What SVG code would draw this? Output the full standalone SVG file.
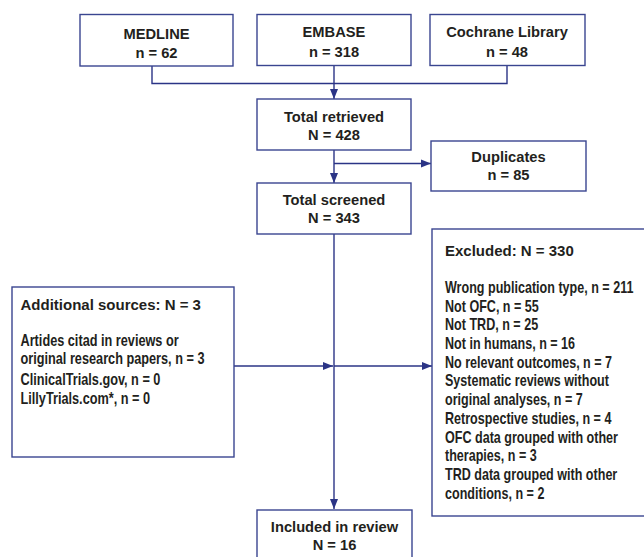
<svg xmlns="http://www.w3.org/2000/svg" width="644" height="557" viewBox="0 0 644 557">
<defs>
<marker id="ah" viewBox="0 0 10 10" refX="10" refY="5" markerWidth="10" markerHeight="10" markerUnits="userSpaceOnUse" orient="auto">
<path d="M0,1 L10,5 L0,9 Z" fill="#2b3486"/>
</marker>
<style>
.box{fill:#fff;stroke:#3a4590;stroke-width:1.4}
.ln{fill:none;stroke:#2b3486;stroke-width:1.4}
.t{font-family:"Liberation Sans",Arial,sans-serif;font-weight:bold;font-size:14.7px;fill:#231f20;text-anchor:middle}
.h{font-family:"Liberation Sans",Arial,sans-serif;font-weight:bold;font-size:15px;fill:#231f20}
.l{font-family:"Liberation Sans",Arial,sans-serif;font-weight:bold;font-size:16px;fill:#231f20}
</style>
</defs>
<rect width="644" height="557" fill="#fff"/>
<g id="connectors">
<path class="ln" d="M152,66 V83.5 H507 V66"/>
<path class="ln" d="M334,65 V99" marker-end="url(#ah)"/>
<path class="ln" d="M334,150 V183" marker-end="url(#ah)"/>
<path class="ln" d="M334,163.5 H431" marker-end="url(#ah)"/>
<path class="ln" d="M334,234 V509" marker-end="url(#ah)"/>
<path class="ln" d="M234,366 H333" marker-end="url(#ah)"/>
<path class="ln" d="M334,366 H432" marker-end="url(#ah)"/>
</g>
<g id="medline">
<rect class="box" x="80" y="14.5" width="153" height="51.5"/>
<text class="t" x="156.5" y="38.5">MEDLINE</text>
<text class="t" x="156.5" y="57.5">n = 62</text>
</g>
<g id="embase">
<rect class="box" x="257" y="14.5" width="154" height="51"/>
<text class="t" x="334" y="36.5">EMBASE</text>
<text class="t" x="334" y="57">n = 318</text>
</g>
<g id="cochrane">
<rect class="box" x="430" y="14.5" width="155" height="51"/>
<text class="t" x="507" y="36.5">Cochrane Library</text>
<text class="t" x="507" y="57">n = 48</text>
</g>
<g id="retrieved">
<rect class="box" x="257" y="99" width="154" height="51"/>
<text class="t" x="334" y="121.5">Total retrieved</text>
<text class="t" x="334" y="139.5">N = 428</text>
</g>
<g id="duplicates">
<rect class="box" x="431" y="141" width="155" height="50"/>
<text class="t" x="508.5" y="161.5">Duplicates</text>
<text class="t" x="508.5" y="180">n = 85</text>
</g>
<g id="screened">
<rect class="box" x="257" y="183" width="154" height="51"/>
<text class="t" x="334" y="205">Total screened</text>
<text class="t" x="334" y="223">N = 343</text>
</g>
<g id="additional">
<rect class="box" x="12" y="287" width="222" height="170"/>
<text class="h" x="20.5" y="310">Additional sources: N = 3</text>
<g transform="translate(20.5,0) scale(0.795,1)">
<text class="l" x="0" y="346">Artides citad in reviews or</text>
<text class="l" x="0" y="364">original research papers, n = 3</text>
<text class="l" x="0" y="385">ClinicalTrials.gov, n = 0</text>
<text class="l" x="0" y="404">LillyTrials.com*, n = 0</text>
</g>
</g>
<g id="excluded">
<rect class="box" x="432" y="229" width="220" height="287"/>
<text class="h" x="445" y="255.7">Excluded: N = 330</text>
<g transform="translate(445,0) scale(0.785,1)">
<text class="l" x="0" y="293">Wrong publication type, n = 211</text>
<text class="l" x="0" y="311.7">Not OFC, n = 55</text>
<text class="l" x="0" y="330.4">Not TRD, n = 25</text>
<text class="l" x="0" y="349">Not in humans, n = 16</text>
<text class="l" x="0" y="367.8">No relevant outcomes, n = 7</text>
<text class="l" x="0" y="386.5">Systematic reviews without</text>
<text class="l" x="0" y="405.2">original analyses, n = 7</text>
<text class="l" x="0" y="424">Retrospective studies, n = 4</text>
<text class="l" x="0" y="442.6">OFC data grouped with other</text>
<text class="l" x="0" y="461.3">therapies, n = 3</text>
<text class="l" x="0" y="480">TRD data grouped with other</text>
<text class="l" x="0" y="498.7">conditions, n = 2</text>
</g>
</g>
<g id="included">
<rect class="box" x="257" y="510" width="155" height="60"/>
<text class="t" x="334.5" y="531.7">Included in review</text>
<text class="t" x="334.5" y="550">N = 16</text>
</g>
</svg>
